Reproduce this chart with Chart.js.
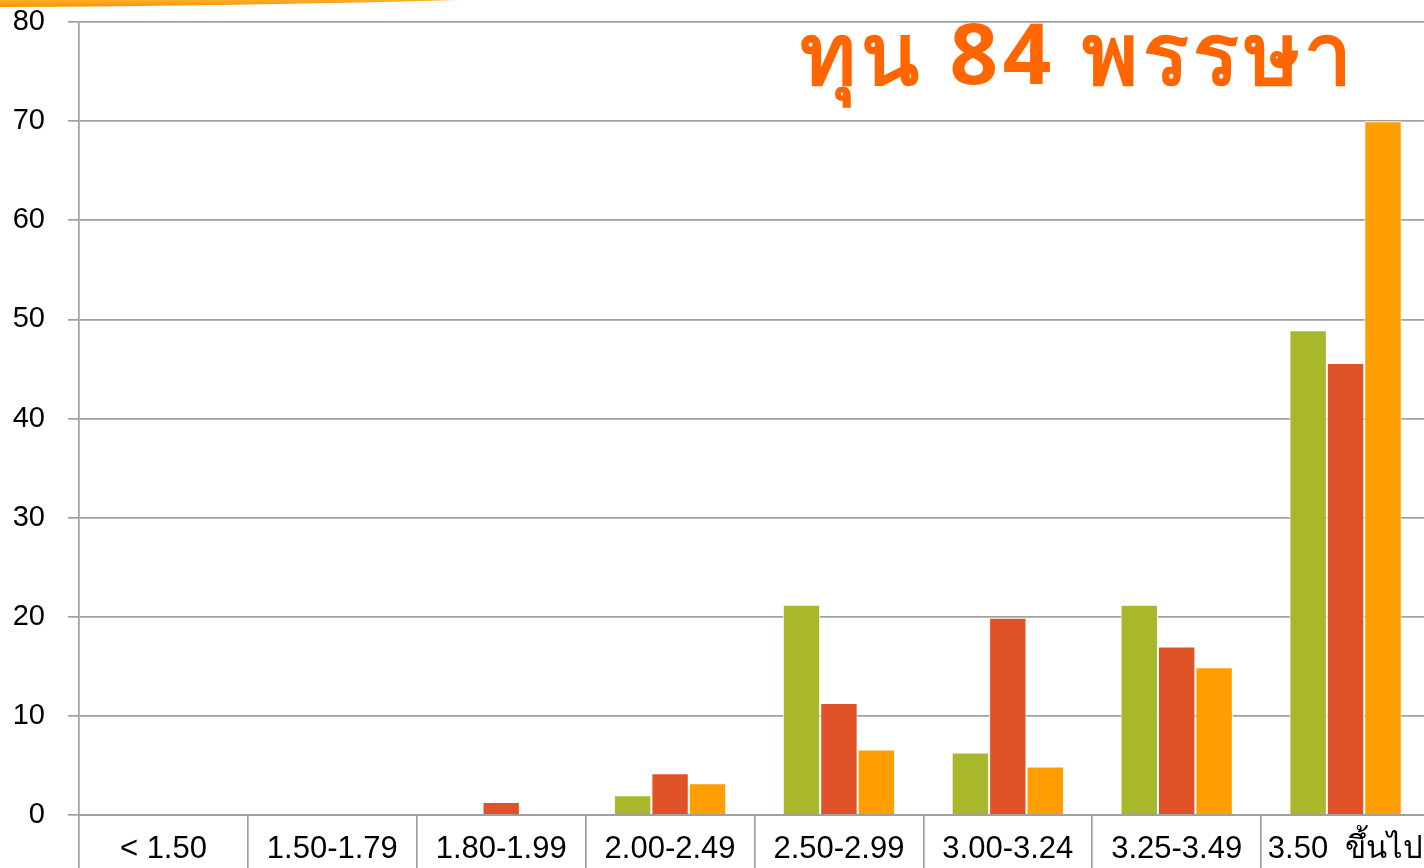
<!DOCTYPE html>
<html>
<head>
<meta charset="utf-8">
<script src="https://cdn.jsdelivr.net/npm/chart.js@4"></script>
<style>
  html, body { margin: 0; padding: 0; background: #fff; overflow: hidden; }
  #wrap { position: relative; width: 1424px; height: 868px; overflow: hidden; }
  #c { position: absolute; left: 0; top: 0; }
  #swoosh { position: absolute; left: 0; top: 0; }
  #title {
    position: absolute; left: 800px; top: 9px;
    font-family: "Noto Sans", sans-serif; font-weight: bold;
    font-size: 85px; line-height: 1; color: #ff6600; white-space: nowrap;
    letter-spacing: 4.5px;
  }
</style>
</head>
<body>
<div id="wrap">
  <canvas id="c" width="1430" height="868"></canvas>
  <svg id="swoosh" width="470" height="10">
    <defs>
      <linearGradient id="g" x1="0" y1="0" x2="0" y2="1">
        <stop offset="0" stop-color="#ffad2a"/>
        <stop offset="1" stop-color="#f59400"/>
      </linearGradient>
    </defs>
    <path d="M0,0 L458,0 Q240,6 0,7 Z" fill="url(#g)"/>
  </svg>
  <div id="title">ทุน 84 พรรษา</div>
</div>
<script>
const categories = ['< 1.50', '1.50-1.79', '1.80-1.99', '2.00-2.49', '2.50-2.99', '3.00-3.24', '3.25-3.49', '3.50  ขึ้นไป'];
const seriesGreen = [0, 0, 0, 2.0, 21.2, 6.3, 21.2, 48.9];
const seriesRed = [0, 0, 1.3, 4.2, 11.3, 19.9, 17.0, 45.6];
const seriesOrange = [0, 0, 0, 3.2, 6.6, 4.9, 14.9, 70];
const yTickValues = [0, 10, 20, 30, 40, 50, 60, 70, 80];

const gridGray = '#a0a0a0';
const xFont = { family: '"Liberation Sans", Arial, sans-serif', size: 31 };
const yFont = { family: '"Liberation Sans", Arial, sans-serif', size: 29 };

const mkSet = (label, data, color) => ({
  label, data, backgroundColor: color,
  borderColor: 'rgba(255,255,255,0.95)', borderWidth: 1,
  barPercentage: 1.0, categoryPercentage: 0.665
});

new Chart(document.getElementById('c'), {
  type: 'bar',
  data: {
    labels: categories,
    datasets: [
      mkSet('ชุด 1', seriesGreen, '#a8b82a'),
      mkSet('ชุด 2', seriesRed, '#e05328'),
      mkSet('ชุด 3', seriesOrange, '#ff9e00')
    ]
  },
  options: {
    responsive: false,
    animation: false,
    layout: { padding: { top: 22, left: 0, right: 0, bottom: 0 } },
    plugins: { legend: { display: false }, tooltip: { enabled: false }, title: { display: false } },
    scales: {
      x: {
        offset: true,
        grid: { display: true, drawOnChartArea: false, drawTicks: true, tickLength: 53, color: gridGray, lineWidth: 1.7, offset: true },
        border: { display: true, color: gridGray, width: 2 },
        ticks: { font: xFont, color: '#000', padding: -37.5, maxRotation: 0, autoSkip: false },
        afterFit: (s) => { s.height = 53; s.paddingLeft = 0; s.paddingRight = 0; }
      },
      y: {
        min: 0, max: 80,
        afterBuildTicks: (s) => { s.ticks = yTickValues.map(v => ({ value: v })); },
        grid: { color: gridGray, lineWidth: 1.7, tickLength: 11, drawTicks: true },
        border: { display: true, color: gridGray, width: 1.7 },
        ticks: { font: yFont, color: '#000', padding: 23 },
        afterFit: (s) => { s.width = 79; s.paddingTop = 0; s.paddingBottom = 0; }
      }
    }
  }
});
</script>
</body>
</html>
